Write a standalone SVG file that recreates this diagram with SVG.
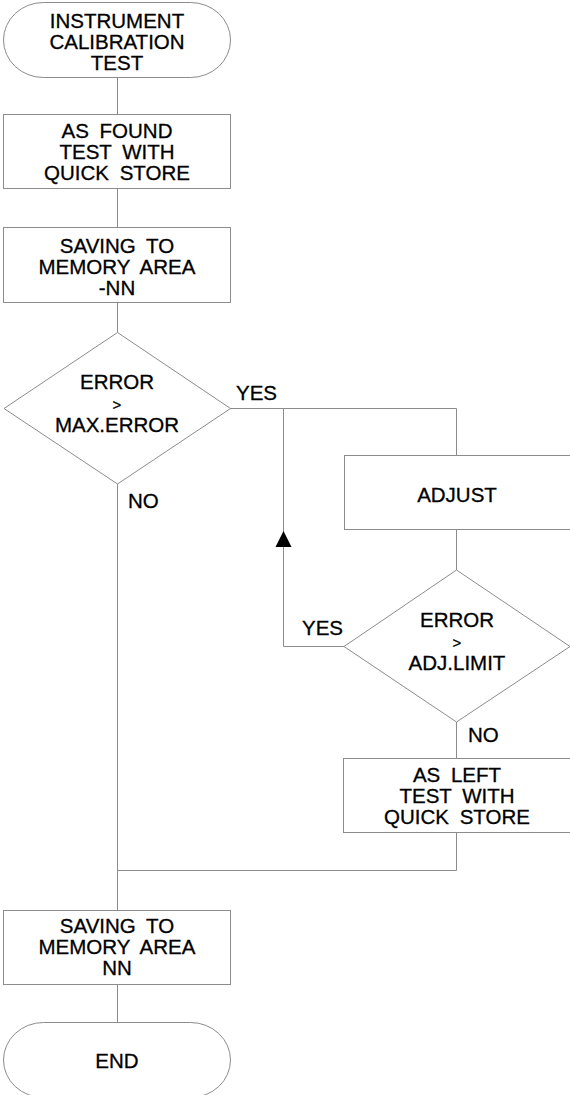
<svg xmlns="http://www.w3.org/2000/svg" width="570" height="1095" viewBox="0 0 570 1095">
<style>
.s{fill:#fff;stroke:#8c8c8c;stroke-width:1}
.c{fill:none;stroke:#8c8c8c;stroke-width:1}
text{font-family:"Liberation Sans",Arial,sans-serif;font-size:20.5px;fill:#000;stroke:#000;stroke-width:0.3;word-spacing:5px}
.m{text-anchor:middle}
.g{font-size:15px}
</style>
<rect width="570" height="1095" fill="#fff"/>
<g id="connectors">
<path class="c" d="M117.5 77.5V114.5M117.5 188.5V227.5M117.5 302.5V332.5M117.5 484V910.5M117.5 984.5V1022.5"/>
<path class="c" d="M230 408.5H456.5V455.5"/>
<path class="c" d="M456.5 529.5V570M456.5 722V758.5"/>
<path class="c" d="M456.5 832.5V870.5H117.5"/>
<path class="c" d="M344 646.5H283.5V408.5"/>
<polygon points="283.5,531 275.5,547 291.5,547" fill="#000"/>
<text x="236" y="400">YES</text>
<text x="128" y="508">NO</text>
<text x="302" y="635">YES</text>
<text x="468" y="742">NO</text>
</g>
<g id="start">
<rect class="s" x="3.5" y="2.5" width="227" height="75" rx="40" ry="37.5"/>
<text class="m" x="117" y="28">INSTRUMENT</text>
<text class="m" x="117" y="49">CALIBRATION</text>
<text class="m" x="117" y="70">TEST</text>
</g>
<g id="as-found">
<rect class="s" x="3.5" y="114.5" width="227" height="74"/>
<text class="m" x="117" y="138">AS FOUND</text>
<text class="m" x="117" y="159">TEST WITH</text>
<text class="m" x="117" y="180">QUICK STORE</text>
</g>
<g id="save-nn-neg">
<rect class="s" x="3.5" y="227.5" width="227" height="75"/>
<text class="m" x="117" y="253">SAVING TO</text>
<text class="m" x="117" y="274">MEMORY AREA</text>
<text class="m" x="117" y="295">-NN</text>
</g>
<g id="dec-max">
<polygon class="s" points="117.5,332.5 230.5,408.5 117.5,484 4,408.5"/>
<text class="m" x="117" y="389">ERROR</text>
<text class="m g" x="117" y="410">&gt;</text>
<text class="m" x="117" y="432">MAX.ERROR</text>
</g>
<g id="adjust">
<rect class="s" x="344.5" y="455.5" width="226" height="74"/>
<text class="m" x="457" y="502">ADJUST</text>
</g>
<g id="dec-adj">
<polygon class="s" points="456.5,570 570,646.5 456.5,722 344,646.5"/>
<text class="m" x="457" y="627">ERROR</text>
<text class="m g" x="457" y="648">&gt;</text>
<text class="m" x="457" y="670">ADJ.LIMIT</text>
</g>
<g id="as-left">
<rect class="s" x="343.5" y="758.5" width="227" height="74"/>
<text class="m" x="457" y="782">AS LEFT</text>
<text class="m" x="457" y="803">TEST WITH</text>
<text class="m" x="457" y="824">QUICK STORE</text>
</g>
<g id="save-nn">
<rect class="s" x="3.5" y="910.5" width="227" height="74"/>
<text class="m" x="117" y="933">SAVING TO</text>
<text class="m" x="117" y="954">MEMORY AREA</text>
<text class="m" x="117" y="975">NN</text>
</g>
<g id="end">
<rect class="s" x="3.5" y="1022.5" width="227" height="75" rx="40" ry="37.5"/>
<text class="m" x="117" y="1068">END</text>
</g>
</svg>
